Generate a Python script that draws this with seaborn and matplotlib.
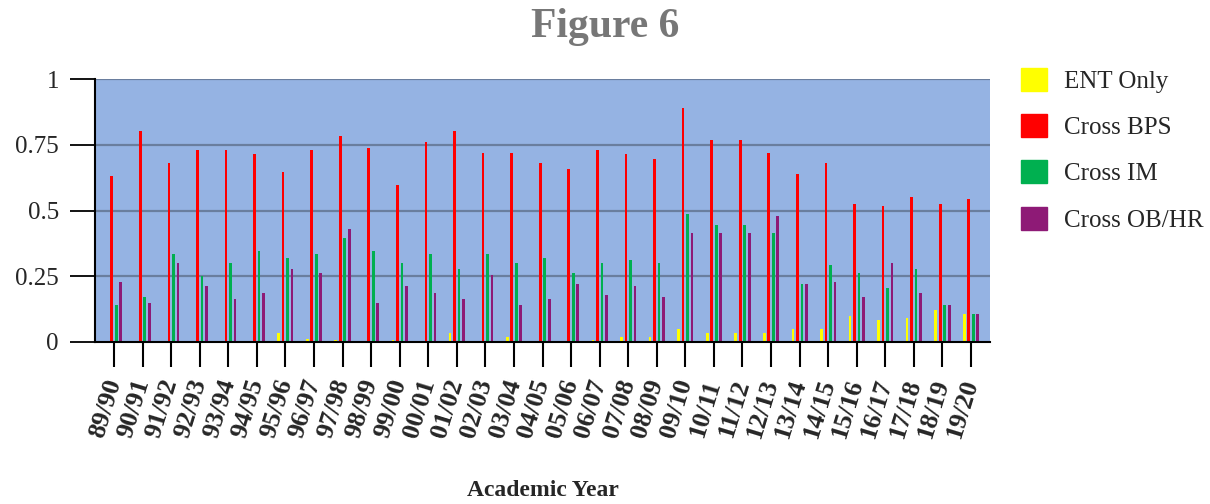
import pandas as pd
import matplotlib.pyplot as plt
import seaborn as sns

years = ['89/90', '90/91', '91/92', '92/93', '93/94', '94/95', '95/96', '96/97',
         '97/98', '98/99', '99/00', '00/01', '01/02', '02/03', '03/04', '04/05',
         '05/06', '06/07', '07/08', '08/09', '09/10', '10/11', '11/12', '12/13',
         '13/14', '14/15', '15/16', '16/17', '17/18', '18/19', '19/20']
ent_only = [0, 0, 0, 0, 0, 0, 0.033, 0.01, 0.009, 0, 0.009, 0, 0.033, 0, 0.018, 0,
            0, 0.009, 0.018, 0.018, 0.051, 0.033, 0.033, 0.033, 0.051, 0.051,
            0.099, 0.083, 0.09, 0.123, 0.107]
cross_bps = [0.632, 0.802, 0.68, 0.729, 0.729, 0.713, 0.648, 0.729, 0.785, 0.737,
             0.598, 0.761, 0.802, 0.72, 0.72, 0.68, 0.656, 0.729, 0.713, 0.696,
             0.891, 0.769, 0.769, 0.72, 0.639, 0.68, 0.526, 0.517, 0.55, 0.526, 0.542]
cross_im = [0.14, 0.172, 0.334, 0.252, 0.302, 0.347, 0.318, 0.334, 0.396, 0.347,
            0.302, 0.334, 0.277, 0.334, 0.302, 0.318, 0.262, 0.302, 0.31, 0.302,
            0.485, 0.445, 0.445, 0.413, 0.221, 0.294, 0.262, 0.205, 0.277, 0.14, 0.107]
cross_obhr = [0.23, 0.149, 0.302, 0.212, 0.165, 0.188, 0.277, 0.261, 0.428, 0.147,
              0.212, 0.188, 0.165, 0.253, 0.14, 0.164, 0.221, 0.18, 0.212, 0.172,
              0.413, 0.413, 0.413, 0.478, 0.221, 0.229, 0.172, 0.302, 0.188, 0.14, 0.107]
series = ['ENT Only', 'Cross BPS', 'Cross IM', 'Cross OB/HR']
colors = ['#FFFF00', '#FF0000', '#00B050', '#8E1A76']

frames = []
for name, vals in zip(series, [ent_only, cross_bps, cross_im, cross_obhr]):
    frames.append(pd.DataFrame({'year': years, 'value': vals, 'series': name}))
df = pd.concat(frames, ignore_index=True)

sns.set_style('white')
plt.rcParams['font.family'] = ['Liberation Serif', 'DejaVu Serif']

fig = plt.figure(figsize=(12.1, 5.04), dpi=100)
ax = fig.add_axes([95 / 1210, 1 - 342 / 504, (990 - 95) / 1210, (342 - 79) / 504])
ax.set_facecolor('#95B3E3')

sns.barplot(data=df, x='year', y='value', hue='series', hue_order=series,
            palette=colors, width=0.63, gap=0.4, ax=ax, legend=True,
            saturation=1, linewidth=0)

ax.set_xlim(-0.665, len(years) - 1 + 0.665)
ax.set_ylim(0, 1)
ax.set_yticks([0, 0.25, 0.5, 0.75, 1])
ax.set_yticklabels(['0', '0.25', '0.5', '0.75', '1'], fontsize=18)
for y in [0.25, 0.5, 0.75, 1]:
    ax.axhline(y, color='#6A7E9E', lw=1.6, zorder=0.5)
ax.set_axisbelow(True)

ax.tick_params(axis='y', length=18, width=1.3, color='black', pad=8, left=True)
ax.tick_params(axis='x', length=18, width=1.5, color='black', pad=9, bottom=True)
ax.set_xticks(range(len(years)))
ax.set_xticklabels(years, rotation=73, ha='right', va='center',
                   rotation_mode='anchor', fontsize=19, fontweight='bold')

for s in ['top', 'right']:
    ax.spines[s].set_visible(False)
for s in ['left', 'bottom']:
    ax.spines[s].set_color('black')
    ax.spines[s].set_linewidth(1.5)

ax.set_xlabel('')
ax.set_ylabel('')
fig.text(543 / 1210, 1 - 491 / 504, 'Academic Year', ha='center', va='center',
         fontsize=17, fontweight='bold')
fig.text(0.5, 1 - 27 / 504, 'Figure 6', ha='center', va='center',
         fontsize=30, fontweight='bold', color='#777777')

ax.get_legend().remove()
handles = [plt.Rectangle((0, 0), 1, 1, fc=c, ec=c) for c in colors]
leg = fig.legend(handles, series, loc='upper left',
                 bbox_to_anchor=(998 / 1210, 1 - 45 / 504), frameon=False,
                 fontsize=18, handlelength=1.05, handleheight=1.05,
                 labelspacing=0.85, handletextpad=0.7)

fig.savefig('out.png', dpi=100)
